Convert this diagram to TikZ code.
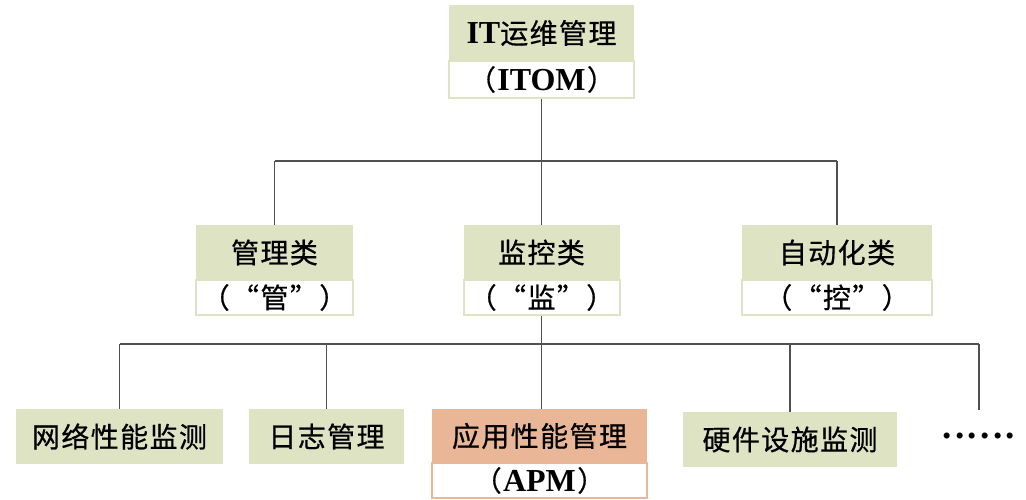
\documentclass[tikz,border=0pt]{standalone}
\usepackage{fontspec}
\setmainfont{Liberation Serif}
\newfontfamily\cjk[LetterSpace=5,FakeBold=0.6]{Noto Sans CJK SC}
\definecolor{boxgreen}{HTML}{DDE3C3}
\definecolor{boxorange}{HTML}{E9B797}
\definecolor{linegray}{HTML}{505050}
\newcommand{\lat}[1]{{\rmfamily\bfseries\fontsize{24}{28}\selectfont #1}}
\tikzset{
  box/.style={rectangle, inner sep=0pt, anchor=center, font=\fontsize{21}{24}\selectfont\cjk},
  gbox/.style={box, fill=boxgreen},
  obox/.style={box, fill=boxorange},
  wbox/.style={box, fill=white, draw=boxgreen, line width=1.5pt},
  wobox/.style={box, fill=white, draw=boxorange, line width=1.5pt},
  link/.style={draw=linegray, line width=1pt},
}
\begin{document}
\begin{tikzpicture}[x=0.75pt,y=-0.75pt]
\fill[white] (0,0) rectangle (1026,500);
\useasboundingbox (0,0) rectangle (1026,500);
% top
\node[wbox, minimum width=185*0.75pt, minimum height=37*0.75pt] (itomb) at (541.5,79.5) {（\kern1pt\lat{ITOM}\kern1pt）};
\node[gbox, minimum width=185*0.75pt, minimum height=56*0.75pt] (itom) at (541.5,33) {\lat{IT}运维管理};
% middle
\node[wbox, minimum width=157*0.75pt, minimum height=35*0.75pt] (guanb) at (274.5,297.5) {（“管”）};
\node[gbox, minimum width=157*0.75pt, minimum height=55*0.75pt] (guan) at (274.5,252.5) {管理类};
\node[wbox, minimum width=156*0.75pt, minimum height=35*0.75pt] (jianb) at (541.5,297.5) {（“监”）};
\node[gbox, minimum width=156*0.75pt, minimum height=55*0.75pt] (jian) at (541.5,252.5) {监控类};
\node[wbox, minimum width=190*0.75pt, minimum height=35*0.75pt] (zidongb) at (837,297.5) {（“控”）};
\node[gbox, minimum width=190*0.75pt, minimum height=55*0.75pt] (zidong) at (837,252.5) {自动化类};
% bottom
\node[gbox, minimum width=207*0.75pt, minimum height=55*0.75pt] (wangluo) at (119.5,436.5) {网络性能监测};
\node[gbox, minimum width=155*0.75pt, minimum height=55*0.75pt] (rizhi) at (326.5,436.5) {日志管理};
\node[wobox, minimum width=215*0.75pt, minimum height=35*0.75pt] (apmb) at (539.5,480.5) {（\kern1pt\lat{APM}\kern1pt）};
\node[obox, minimum width=215*0.75pt, minimum height=54*0.75pt] (apm) at (539.5,436) {应用性能管理};
\node[gbox, minimum width=214*0.75pt, minimum height=55*0.75pt] (yingjian) at (790,439.5) {硬件设施监测};
\node[box, font=\rmfamily\bfseries\fontsize{28}{30}\selectfont] (dots) at (979,436) {.\kern2.5pt.\kern2.5pt.\kern2.5pt.\kern2.5pt.\kern2.5pt.};
\coordinate (more) at (979,410);
\coordinate (h1) at (0,161);
\coordinate (h2) at (0,344);
% connectors level 1
\draw[link] (itomb.south) -- (jian.north);
\draw[link] (guan.north |- h1) -- (zidong.north |- h1);
\draw[link] (guan.north |- h1) -- (guan.north);
\draw[link] (zidong.north |- h1) -- (zidong.north);
% connectors level 2
\draw[link] (jianb.south) -- (jianb.south |- apm.north);
\draw[link] (wangluo.north |- h2) -- (more |- h2);
\draw[link] (wangluo.north |- h2) -- (wangluo.north);
\draw[link] (rizhi.north |- h2) -- (rizhi.north);
\draw[link] (yingjian.north |- h2) -- (yingjian.north);
\draw[link] (more |- h2) -- (more);
\end{tikzpicture}
\end{document}
